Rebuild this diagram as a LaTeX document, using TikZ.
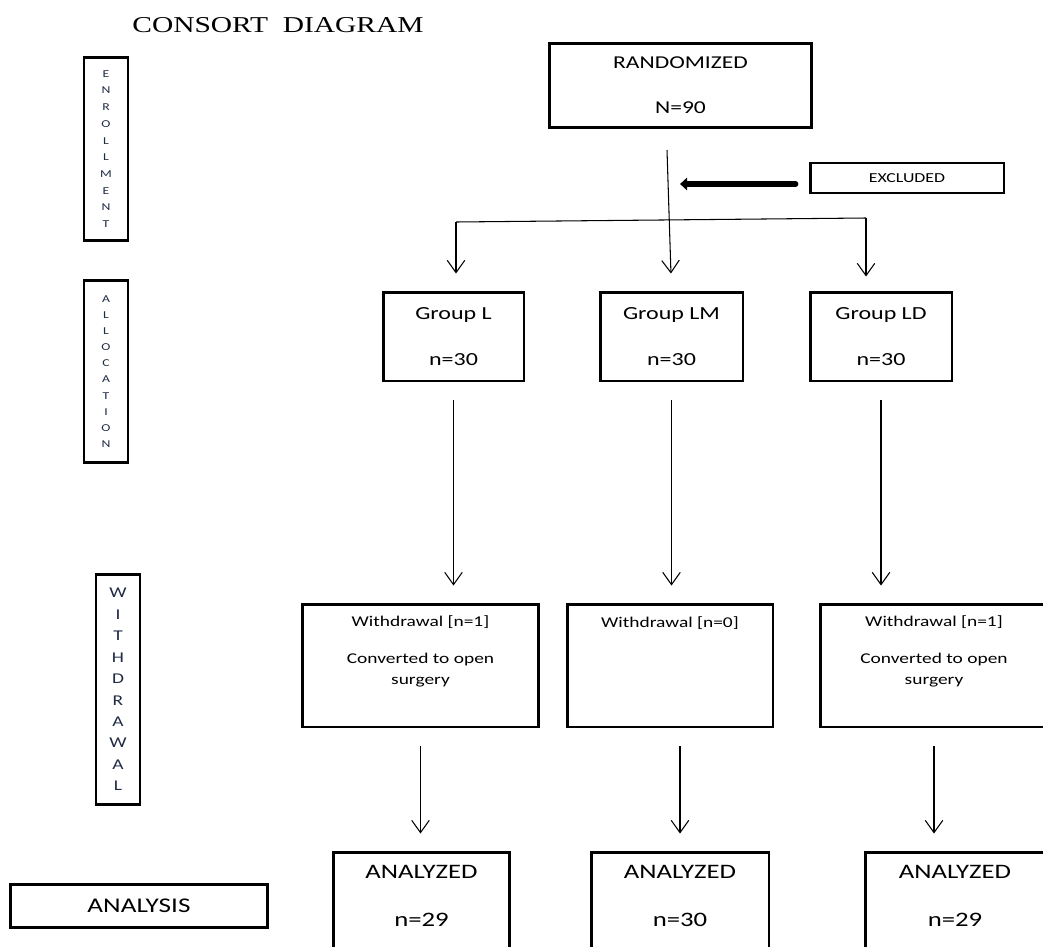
\documentclass[tikz,border=0pt]{standalone}
\usepackage{fontspec}
\setmainfont{Carlito}[FakeStretch=1.3]
\newfontfamily\titlefont{Liberation Serif}[FakeStretch=1.3]
\usepackage{xcolor}
\usetikzlibrary{arrows.meta,positioning}
\definecolor{lettercol}{HTML}{1F2A44}

\tikzset{
    box/.style={draw, line width=1.7pt, align=center, inner sep=0pt},
    stagebox/.style={box, minimum width=0.88cm, text=lettercol},
    flowbox/.style={box, minimum height=1.78cm},
    connect/.style={semithick, -{Straight Barb[length=7pt,width=10pt]}},
    heavyarrow/.style={line width=3.2pt, line cap=round, -{Triangle[length=4pt,width=7pt]}}
}

\begin{document}
\begin{tikzpicture}[x=0.02cm, y=-0.02cm]
    \useasboundingbox (0,0) rectangle (1043,946);

    % title
    \node (title) at (278,25) {\titlefont\fontsize{12.9}{15}\selectfont CONSORT\ \ DIAGRAM};

    % stage labels on the left
    \node[stagebox, minimum height=3.68cm, font=\fontsize{6}{9.5}\selectfont] (enroll) at (106,149)
        {E\\N\\R\\O\\L\\L\\M\\E\\N\\T};
    \node[stagebox, minimum height=3.66cm, font=\fontsize{6}{9.2}\selectfont] (alloc) at (106,371.5)
        {A\\L\\L\\O\\C\\A\\T\\I\\O\\N};
    \node[stagebox, minimum height=4.62cm, font=\fontsize{8.5}{12.2}\selectfont] (withdr) at (118,689.5)
        {W\\I\\T\\H\\D\\R\\A\\W\\A\\L};
    \node[box, minimum width=5.16cm, minimum height=0.86cm, font=\fontsize{11.9}{14}\selectfont] (analysis) at (139,905.5)
        {ANALYSIS};

    % randomisation
    \node[box, minimum width=5.26cm, minimum height=1.70cm, font=\fontsize{10.3}{25.5}\selectfont] (rand) at (680.5,85.5)
        {RANDOMIZED\\N=90};
    \node[box, minimum width=3.88cm, minimum height=0.60cm, font=\fontsize{7.8}{9}\selectfont] (excl) at (907,178)
        {EXCLUDED};

    % groups
    \node[flowbox, minimum width=2.82cm, font=\fontsize{10.5}{26}\selectfont] (grpL) at (453.5,336.5) {Group L\\n=30};
    \node[flowbox, minimum width=2.86cm, font=\fontsize{10.5}{26}\selectfont] (grpLM) at (671.5,336.5) {Group LM\\n=30};
    \node[flowbox, minimum width=2.84cm, font=\fontsize{10.5}{26}\selectfont] (grpLD) at (881,336.5) {Group LD\\n=30};

    % withdrawals
    \node[box, minimum width=4.74cm, text height=1.6cm, text depth=0.86cm, font=\fontsize{8.5}{11.4}\selectfont] (wdL) at (420.5,665.5)
        {Withdrawal [n=1]\\[10pt]Converted to open\\surgery};
    \node[box, minimum width=4.12cm, text height=0.46cm, text depth=2.0cm, font=\fontsize{8.5}{11.4}\selectfont] (wdLM) at (670,665.5)
        {Withdrawal [n=0]};
    \node[box, minimum width=4.56cm, text height=1.6cm, text depth=0.86cm, font=\fontsize{8.5}{11.4}\selectfont] (wdLD) at (934,665.5)
        {Withdrawal [n=1]\\[10pt]Converted to open\\surgery};

    % analysed
    \node[box, minimum width=3.54cm, text height=1.49cm, text depth=0.51cm, font=\fontsize{11.7}{27.3}\selectfont] (anL) at (421.5,902) {ANALYZED\\n=29};
    \node[box, minimum width=3.56cm, text height=1.49cm, text depth=0.51cm, font=\fontsize{11.7}{27.3}\selectfont] (anLM) at (680,902) {ANALYZED\\n=30};
    \node[box, minimum width=3.60cm, text height=1.49cm, text depth=0.51cm, font=\fontsize{11.7}{27.3}\selectfont] (anLD) at (955,902) {ANALYZED\\n=29};

    % split lines
    \coordinate (randfoot) at (667,150);
    \coordinate (splitL) at (456,222);
    \coordinate (splitR) at (866,218);
    \coordinate (exclhead) at (680,184);

    \draw[connect, shorten >=0.34cm] (randfoot) -- (grpLM.north);
    \draw[semithick] (splitL) -- (splitR);
    \draw[connect, shorten >=0.34cm] (splitL) -- (splitL |- grpL.north);
    \draw[connect, shorten >=0.28cm] (splitR) -- (splitR |- grpLD.north);
    \draw[heavyarrow, shorten <=0.26cm] (excl.west |- exclhead) -- (exclhead);

    \draw[connect, shorten <=0.36cm, shorten >=0.34cm] (grpL.south) -- (grpL.south |- wdL.north);
    \draw[connect, shorten <=0.36cm, shorten >=0.34cm] (grpLM.south) -- (grpLM.south |- wdLM.north);
    \draw[connect, shorten <=0.36cm, shorten >=0.34cm] (grpLD.south) -- (grpLD.south |- wdLD.north);

    \draw[connect, shorten <=0.36cm, shorten >=0.34cm] (wdL.south) -- (wdL.south |- anL.north);
    \draw[connect, shorten <=0.36cm, shorten >=0.34cm] (anLM.north |- wdLM.south) -- (anLM.north);
    \draw[connect, shorten <=0.36cm, shorten >=0.34cm] (wdLD.south) -- (wdLD.south |- anLD.north);
\end{tikzpicture}
\end{document}
